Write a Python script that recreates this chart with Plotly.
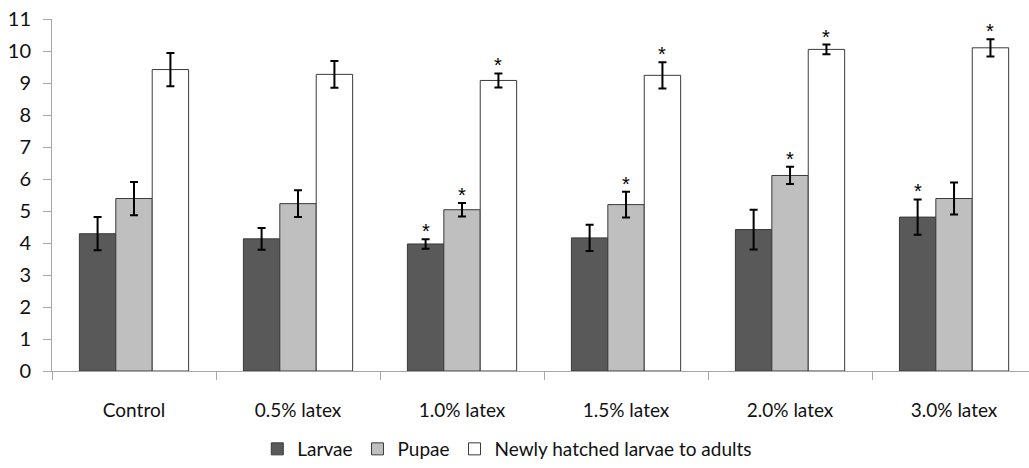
import plotly.graph_objects as go

# Treatment groups
categories = ["Control", "0.5% latex", "1.0% latex", "1.5% latex", "2.0% latex", "3.0% latex"]

# Development time per stage (mean and error)
larvae = [4.29, 4.13, 3.97, 4.16, 4.42, 4.81]
larvae_err = [0.52, 0.34, 0.15, 0.41, 0.62, 0.55]
pupae = [5.39, 5.23, 5.04, 5.20, 6.11, 5.39]
pupae_err = [0.52, 0.42, 0.21, 0.40, 0.27, 0.50]
adults = [9.42, 9.27, 9.08, 9.24, 10.05, 10.10]
adults_err = [0.52, 0.42, 0.22, 0.41, 0.15, 0.27]

# Significance markers (True = significant vs control)
larvae_sig = [False, False, True, False, False, True]
pupae_sig = [False, False, True, True, True, False]
adults_sig = [False, False, True, True, True, True]

series = [
    ("Larvae", larvae, larvae_err, larvae_sig, "#595959"),
    ("Pupae", pupae, pupae_err, pupae_sig, "#bfbfbf"),
    ("Newly hatched larvae to adults", adults, adults_err, adults_sig, "#ffffff"),
]

bar_w = 0.222
font_family = "Lato, 'Open Sans', sans-serif"
text_color = "#111111"

fig = go.Figure()
annotations = []
for k, (name, vals, errs, sig, color) in enumerate(series):
    offset = (k - 1) * bar_w
    xs = [i + offset for i in range(len(categories))]
    fig.add_trace(go.Bar(
        name=name,
        x=xs,
        y=vals,
        width=bar_w,
        marker=dict(color=color, line=dict(color="#3a3a3a", width=1)),
        error_y=dict(type="data", array=errs, visible=True,
                     color="#000000", thickness=2, width=4),
    ))
    for x, v, e, s in zip(xs, vals, errs, sig):
        if s:
            annotations.append(dict(
                x=x, y=v + e, xref="x", yref="y", text="*",
                showarrow=False, yanchor="bottom", yshift=-5,
                font=dict(size=20, color="#000000", family="Arial Black, Arial, sans-serif"),
            ))

n = len(categories)
fig.update_layout(
    width=1029, height=468,
    margin=dict(l=52, r=0, t=19, b=97),
    paper_bgcolor="white", plot_bgcolor="white",
    barmode="overlay",
    showlegend=True,
    legend=dict(orientation="h", x=0.466, xanchor="center",
                yref="container", y=-0.014, yanchor="bottom",
                font=dict(size=19, family=font_family, color=text_color),
                itemwidth=30, traceorder="normal"),
    annotations=annotations,
    font=dict(family=font_family, color=text_color),
)
fig.update_xaxes(
    range=[-0.5, 5.457],
    tickmode="array", tickvals=list(range(n)), ticktext=categories,
    ticks="", showgrid=False, zeroline=False,
    showline=True, linecolor="#a6a6a6", linewidth=1,
    ticklabelstandoff=22,
    tickfont=dict(size=19, family=font_family, color=text_color),
    minor=dict(tickmode="array", tickvals=[i - 0.5 for i in range(n + 1)],
               ticks="outside", ticklen=8, tickcolor="#a6a6a6", showgrid=False),
)
fig.update_yaxes(
    range=[0, 11], dtick=1, tick0=0,
    ticks="outside", ticklen=8, tickcolor="#a6a6a6",
    showgrid=False, zeroline=False,
    showline=True, linecolor="#a6a6a6", linewidth=1,
    ticklabelstandoff=8,
    tickfont=dict(size=20, family=font_family, color=text_color),
)

fig.write_html("out.html")
